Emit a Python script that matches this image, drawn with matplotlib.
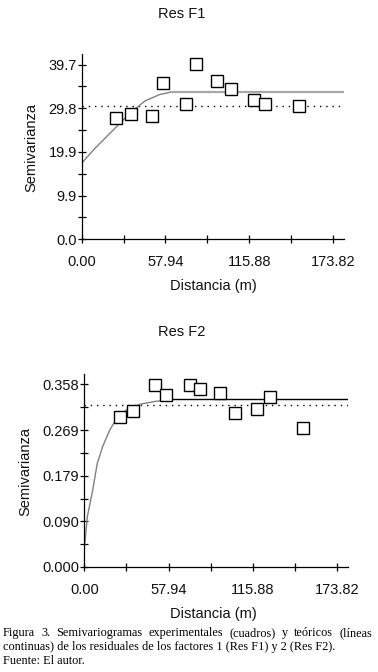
import numpy as np
import matplotlib
matplotlib.use("Agg")
import matplotlib.pyplot as plt
from matplotlib.ticker import FixedLocator

plt.rcParams['font.family'] = ['Liberation Sans', 'DejaVu Sans']

# --- Res F1: experimental semivariogram ---
f1_dist = [23.5, 34.4, 48.9, 56.1, 72.0, 78.9, 93.4, 103.4, 119.1, 126.9, 150.4]
f1_semi = [27.5, 28.4, 28.1, 35.6, 30.7, 39.9, 35.9, 34.1, 31.6, 30.7, 30.2]
# theoretical model
f1_model_x = [0.0, 9.0, 20.5, 32.0, 43.6, 54.0, 59.7, 62.0]
f1_model_y = [17.3, 20.6, 24.4, 28.2, 31.4, 32.9, 33.3, 33.5]
f1_sill = 33.5
f1_var = 30.2
f1_yticks = [0.0, 9.925, 19.85, 29.775, 39.7]
f1_ylabels = ['0.0', '9.9', '19.9', '29.8', '39.7']

# --- Res F2 ---
f2_dist = [24.5, 33.6, 48.9, 56.5, 72.5, 79.6, 93.3, 103.8, 118.9, 127.4, 150.5]
f2_semi = [0.2946, 0.3064, 0.3573, 0.3364, 0.3573, 0.3489, 0.3417, 0.3025, 0.3097, 0.3338, 0.2724]
f2_model_x = [0.0, 2.1, 5.8, 8.9, 12.6, 17.6, 22.2, 29.1, 38.2, 49.7, 60.0]
f2_model_y = [0.035, 0.099, 0.151, 0.203, 0.236, 0.269, 0.291, 0.308, 0.319, 0.325, 0.327]
f2_sill = 0.3286
f2_var = 0.3168
f2_yticks = [0.0, 0.0895, 0.179, 0.2685, 0.358]
f2_ylabels = ['0.000', '0.090', '0.179', '0.269', '0.358']

xticks = [0.0, 57.94, 115.88, 173.82]
xlabels = ['0.00', '57.94', '115.88', '173.82']
xmax = 181.5

W, H = 378, 672
fig = plt.figure(figsize=(W / 100, H / 100), dpi=100)


def panel(rect, dist, semi, mx, my, sill, var, yticks, ylabels, ymax, flat_color, flat_lw):
    ax = fig.add_axes(rect)
    ax.plot(mx, my, color='#808080', lw=1.0, zorder=2)
    ax.plot([mx[-1], xmax], [sill, sill], color=flat_color, lw=flat_lw, zorder=2)
    ax.axhline(var, color='black', lw=1.0, ls=(0, (1, 3.5)), zorder=1)
    ax.plot(dist, semi, ls='none', marker='s', ms=9, mfc='white', mec='black',
            mew=1.0, zorder=3)
    ax.set_xlim(0, xmax)
    ax.set_ylim(0, ymax)
    for s in ['top', 'right']:
        ax.spines[s].set_visible(False)
    for s in ['left', 'bottom']:
        ax.spines[s].set_linewidth(0.9)
    ax.set_xticks(xticks)
    ax.set_xticklabels(xlabels)
    ax.set_yticks(yticks)
    ax.set_yticklabels(ylabels)
    ax.xaxis.set_minor_locator(FixedLocator([v + 28.97 for v in xticks[:-1]]))
    ystep = yticks[1] / 2
    ax.yaxis.set_minor_locator(FixedLocator([v + ystep for v in yticks[:-1]]))
    ax.tick_params(which='both', direction='inout', length=6, width=0.9,
                   labelsize=10.5, color='black', labelcolor='#111111')
    ax.tick_params(axis='x', which='both', pad=8.5)
    ax.tick_params(axis='y', which='both', pad=0.5)
    return ax


def frac_rect(l, r, t, b):
    return [l / W, 1 - b / H, (r - l) / W, (b - t) / H]


ax1 = panel(frac_rect(81.7, 344, 54, 239.3), f1_dist, f1_semi, f1_model_x, f1_model_y,
            f1_sill, f1_var, f1_yticks, f1_ylabels, 42.1, '#a8a8a8', 1.6)
ax2 = panel(frac_rect(84.3, 348.3, 374.3, 567), f2_dist, f2_semi, f2_model_x, f2_model_y,
            f2_sill, f2_var, f2_yticks, f2_ylabels, 0.3777, 'black', 1.0)

lab = dict(fontsize=10.5, color='#111111', ha='center', va='center')
fig.text(182 / W, 1 - 14 / H, 'Res F1', **lab)
fig.text(31 / W, 1 - 147 / H, 'Semivarianza', rotation=90, **lab)
fig.text(213 / W, 1 - 286 / H, 'Distancia (m)', **lab)
fig.text(182 / W, 1 - 332 / H, 'Res F2', **lab)
fig.text(25 / W, 1 - 472 / H, 'Semivarianza', rotation=90, **lab)
fig.text(213 / W, 1 - 614 / H, 'Distancia (m)', **lab)

# caption, first line justified
cap = dict(fontsize=8.8, family=['Liberation Serif', 'DejaVu Serif'], color='black',
           ha='left', va='baseline')
line1 = 'Figura 3. Semivariogramas experimentales (cuadros) y teóricos (líneas'.split()
x0, x1 = 3.0, 372.0
fig.canvas.draw()
r = fig.canvas.get_renderer()
texts = [fig.text(0, 1 - 636 / H, w, **cap) for w in line1]
widths = [t.get_window_extent(renderer=r).width for t in texts]
gap = (x1 - x0 - sum(widths)) / (len(widths) - 1)
x = x0
for t, w in zip(texts, widths):
    t.set_x(x / W)
    x += w + gap
fig.text(x0 / W, 1 - 650 / H,
         'continuas) de los residuales de los factores 1 (Res F1) y 2 (Res F2).', **cap)
fig.text(x0 / W, 1 - 664 / H, 'Fuente: El autor.', **cap)

fig.savefig('out.png', dpi=100)
